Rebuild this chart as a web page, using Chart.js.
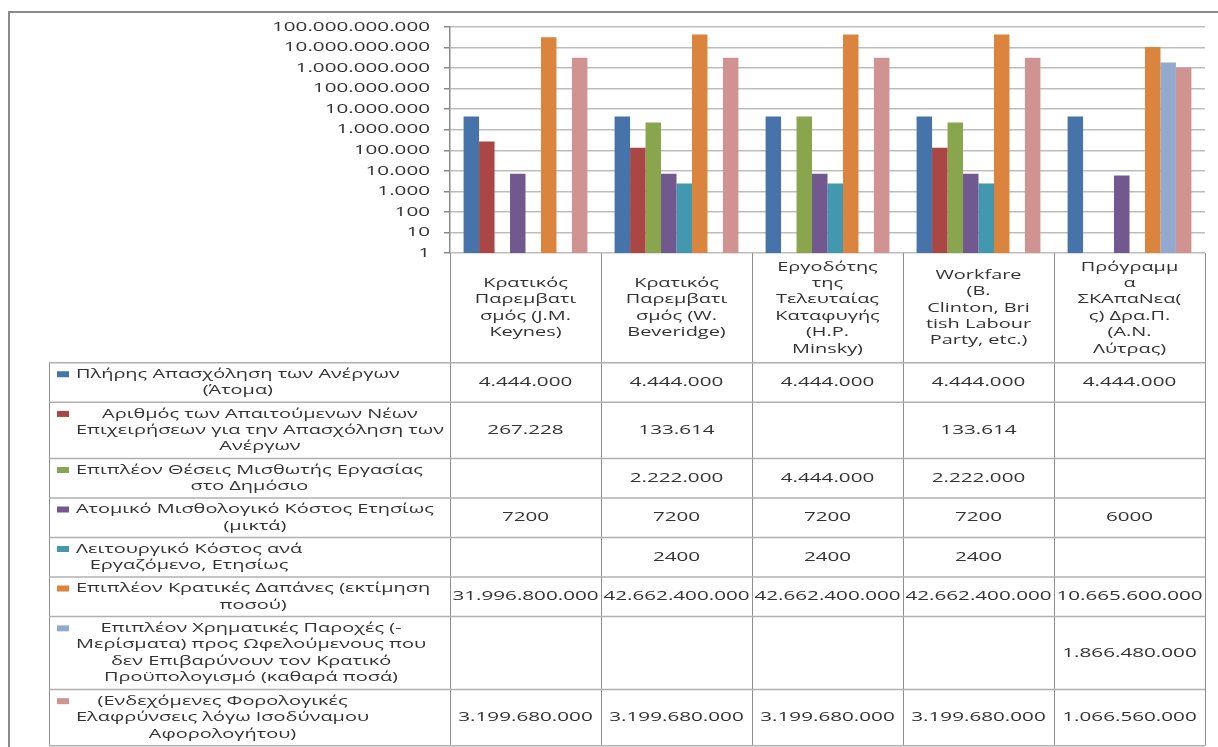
<!DOCTYPE html>
<html><head><meta charset="utf-8">
<script src="https://cdn.jsdelivr.net/npm/chart.js@4.4.0/dist/chart.umd.min.js"></script>
<style>html,body{margin:0;padding:0;background:#fff;overflow:hidden}#wrap{width:1218px;height:747px;position:relative}</style>
</head><body><div id="wrap"><canvas id="c" width="1218" height="747"></canvas></div>
<script>
// ---- data ----
const categories = [
  ['Κρατικός','Παρεμβατι','σμός (J.M.','Keynes)'],
  ['Κρατικός','Παρεμβατι','σμός (W.','Beveridge)'],
  ['Εργοδότης','της','Τελευταίας','Καταφυγής','(H.P.','Minsky)'],
  ['Workfare','(B.','Clinton, Bri','tish Labour','Party, etc.)'],
  ['Πρόγραμμ','α','ΣΚΑπαΝεα(','ς) Δρα.Π.','(Α.Ν.','Λύτρας)']
];
const seriesNames = [
  ['Πλήρης Απασχόληση των Ανέργων','(Άτομα)'],
  ['Αριθμός των Απαιτούμενων Νέων','Επιχειρήσεων για την Απασχόληση των','Ανέργων'],
  ['Επιπλέον Θέσεις Μισθωτής Εργασίας','στο Δημόσιο'],
  ['Ατομικό Μισθολογικό Κόστος Ετησίως','(μικτά)'],
  ['Λειτουργικό Κόστος ανά','Εργαζόμενο, Ετησίως'],
  ['Επιπλέον Κρατικές Δαπάνες (εκτίμηση','ποσού)'],
  ['Επιπλέον Χρηματικές Παροχές (-','Μερίσματα) προς Ωφελούμενους που','δεν Επιβαρύνουν τον Κρατικό','Προϋπολογισμό (καθαρά ποσά)'],
  ['(Ενδεχόμενες Φορολογικές','Ελαφρύνσεις λόγω Ισοδύναμου','Αφορολογήτου)']
];
const fullEmployment   = [4444000, 4444000, 4444000, 4444000, 4444000];
const newBusinesses    = [267228, 133614, null, 133614, null];
const publicJobs       = [null, 2222000, 4444000, 2222000, null];
const wageCost         = [7200, 7200, 7200, 7200, 6000];
const operatingCost    = [null, 2400, 2400, 2400, null];
const extraSpending    = [31996800000, 42662400000, 42662400000, 42662400000, 10665600000];
const cashBenefits     = [null, null, null, null, 1866480000];
const taxRelief        = [3199680000, 3199680000, 3199680000, 3199680000, 1066560000];
const seriesValues = [fullEmployment, newBusinesses, publicJobs, wageCost, operatingCost, extraSpending, cashBenefits, taxRelief];
const yTicks = [1, 10, 100, 1000, 10000, 100000, 1000000, 10000000, 100000000, 1000000000, 10000000000, 100000000000];

// ---- styles ----
const colors = ['#4673a9','#aa4644','#89a54e','#71588f','#4198af','#db843d','#93a9cf','#d19392'];
const FONT = '13px "Open Sans"';
const TEXT_COLOR = '#333333';
const LINE_H = 16.4;

function group(v){ return String(v).replace(/\B(?=(\d{3})+(?!\d))/g, '.'); }
function fmtTable(v){ if (v == null) return ''; return v >= 10000 ? group(v) : String(v); }

function sText(ctx, str, x, y, align, stretch){
  const w = ctx.measureText(str).width * stretch;
  const x0 = align === 'right' ? x - w : align === 'center' ? x - w / 2 : x;
  ctx.save(); ctx.translate(x0, y); ctx.scale(stretch, 1);
  ctx.textAlign = 'left'; ctx.fillText(str, 0, 0); ctx.restore();
}

const tablePlugin = {
  id: 'tablePlugin',
  afterDraw(chart){
    const ctx = chart.ctx;
    const ca = chart.chartArea;
    const xs = chart.scales.x, ys = chart.scales.y;
    ctx.save();
    ctx.font = FONT;
    ctx.textBaseline = 'middle';
    ctx.fillStyle = TEXT_COLOR;
    const stNum = 158 / ctx.measureText('100.000.000.000').width;
    const stTxt = 368 / ctx.measureText('Επιχειρήσεων για την Απασχόληση των').width;

    // outer frame
    ctx.strokeStyle = '#8a8a8a'; ctx.lineWidth = 2;
    ctx.strokeRect(9, 12, 1240, 760);

    // y tick labels
    ys.ticks.forEach(t => {
      sText(ctx, group(t.value), ca.left - 20, ys.getPixelForValue(t.value), 'right', stNum);
    });

    // table geometry
    const n = categories.length;
    const cw = (ca.right - ca.left) / n;
    const bounds = [];
    for (let i = 0; i <= n; i++) bounds.push(xs.getPixelForValue(0) - cw / 2 + i * cw);
    const headerBottom = ca.bottom + 109.7;
    const legendLeft = 49;
    const rowTops = [headerBottom];
    seriesNames.forEach(s => rowTops.push(rowTops[rowTops.length - 1] + 16.75 * s.length + 6));
    const tableBottom = rowTops[rowTops.length - 1];

    // lines
    ctx.strokeStyle = '#8f8f8f'; ctx.lineWidth = 1;
    bounds.forEach(bx => { ctx.beginPath(); ctx.moveTo(Math.round(bx) + 0.5, ca.bottom); ctx.lineTo(Math.round(bx) + 0.5, tableBottom); ctx.stroke(); });
    ctx.beginPath(); ctx.moveTo(legendLeft + 0.5, headerBottom); ctx.lineTo(legendLeft + 0.5, tableBottom); ctx.stroke();
    ctx.strokeStyle = '#b0b0b0'; ctx.lineWidth = 1.5;
    rowTops.forEach(ry => { ctx.beginPath(); ctx.moveTo(legendLeft, ry); ctx.lineTo(bounds[n], ry); ctx.stroke(); });

    // header labels
    const hc = (ca.bottom + headerBottom) / 2;
    categories.forEach((lines, i) => {
      const cx = xs.getPixelForValue(i);
      lines.forEach((ln, k) => sText(ctx, ln, cx, hc + (k - (lines.length - 1) / 2) * LINE_H, 'center', stTxt));
    });

    // rows
    seriesNames.forEach((lines, r) => {
      const top = rowTops[r], bot = rowTops[r + 1], mid = (top + bot) / 2;
      const maxW = Math.max(...lines.map(l => ctx.measureText(l).width * stTxt));
      const bc = 76 + maxW / 2;
      lines.forEach((ln, k) => sText(ctx, ln, bc, mid + (k - (lines.length - 1) / 2) * LINE_H, 'center', stTxt));
      const y0 = mid - (lines.length - 1) / 2 * LINE_H;
      ctx.fillStyle = colors[r];
      ctx.fillRect(57, y0 - 3, 12, 6);
      ctx.fillStyle = TEXT_COLOR;
      seriesValues[r].forEach((v, j) => {
        const s = fmtTable(v);
        if (s) sText(ctx, s, xs.getPixelForValue(j), mid, 'center', stNum);
      });
    });
    ctx.restore();
  }
};

new Chart(document.getElementById('c').getContext('2d'), {
  type: 'bar',
  data: {
    labels: categories.map(c => c.join(' ')),
    datasets: seriesValues.map((vals, i) => ({
      label: seriesNames[i].join(' '),
      data: vals,
      backgroundColor: colors[i],
      borderWidth: 0,
      categoryPercentage: 0.82,
      barPercentage: 1
    }))
  },
  options: {
    responsive: false,
    animation: false,
    devicePixelRatio: 1,
    layout: { padding: { top: 27, right: 13, bottom: 494, left: 0 } },
    plugins: { legend: { display: false }, tooltip: { enabled: false } },
    scales: {
      x: { display: false },
      y: {
        type: 'logarithmic', min: 1, max: 100000000000,
        afterBuildTicks: s => { s.ticks = yTicks.map(v => ({ value: v })); },
        afterFit: s => { s.width = 450; },
        ticks: { display: false },
        grid: { color: '#bdbdbd', lineWidth: 1.5, tickLength: 6, tickColor: '#8a8a8a' },
        border: { color: '#8a8a8a', width: 1.5 }
      }
    }
  },
  plugins: [tablePlugin]
});
</script></body></html>
